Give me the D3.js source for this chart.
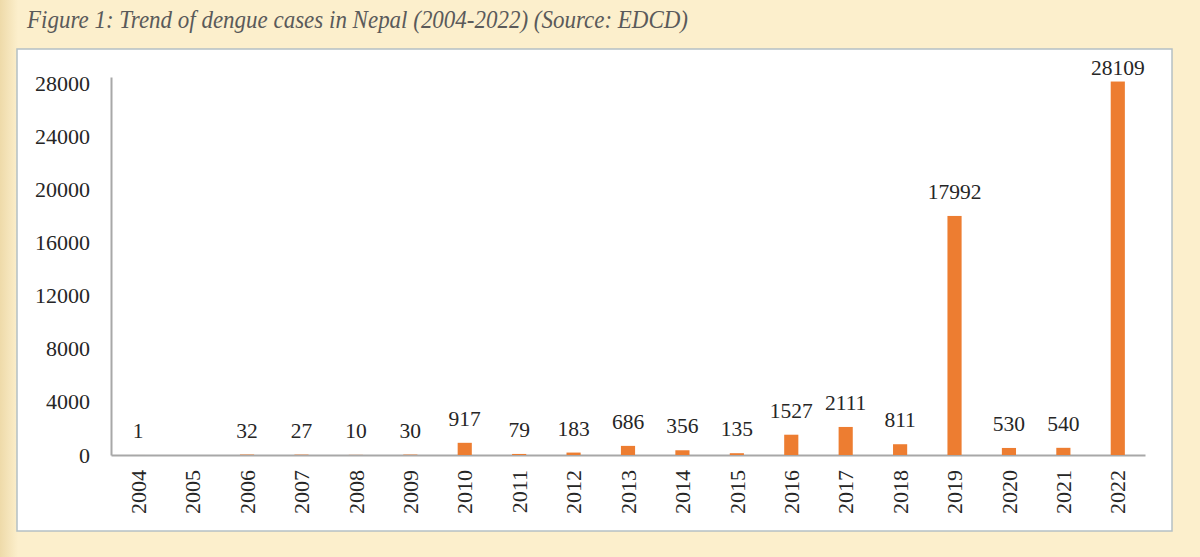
<!DOCTYPE html>
<html>
<head>
<meta charset="utf-8">
<script src="https://cdn.jsdelivr.net/npm/d3@7"></script>
<style>
  html, body { margin: 0; padding: 0; background: #fcefcc; }
  svg { display: block; }
</style>
</head>
<body>
<div id="chart"></div>
<script>
var years = ["2004", "2005", "2006", "2007", "2008", "2009", "2010", "2011", "2012", "2013",
    "2014", "2015", "2016", "2017", "2018", "2019", "2020", "2021", "2022"];
var cases = [1, null, 32, 27, 10, 30, 917, 79, 183, 686, 356, 135, 1527, 2111, 811, 17992, 530, 540, 28109];
var yTicks = [0, 4000, 8000, 12000, 16000, 20000, 24000, 28000];
var title = "Figure 1: Trend of dengue cases in Nepal (2004-2022) (Source: EDCD)";

var W = 1200, H = 557;
var svg = d3.select("#chart").append("svg")
    .attr("width", W)
    .attr("height", H);

// background + darker strip on the left edge
var defs = svg.append("defs");
var grad = defs.append("linearGradient").attr("id", "edge").attr("x1", 0).attr("x2", 1);
grad.append("stop").attr("offset", 0).attr("stop-color", "#eedaa9");
grad.append("stop").attr("offset", 1).attr("stop-color", "#fcefcc");
svg.append("rect").attr("width", W).attr("height", H).attr("fill", "#fcefcc");
svg.append("rect").attr("width", 18).attr("height", H).attr("fill", "url(#edge)");

svg.append("text")
    .attr("x", 27)
    .attr("y", 28)
    .attr("textLength", 661)
    .attr("lengthAdjust", "spacingAndGlyphs")
    .style("font-family", "'Liberation Serif', 'DejaVu Serif', serif")
    .style("font-style", "italic")
    .style("font-size", "26px")
    .style("fill", "#5a5a5a")
    .text(title);

// white plotting box
svg.append("rect")
    .attr("x", 17)
    .attr("y", 49)
    .attr("width", 1155)
    .attr("height", 482)
    .attr("fill", "#ffffff")
    .attr("stroke", "#b4c0c4")
    .attr("stroke-width", 1.5);

var margin = {left: 111, right: 1145, top: 77, bottom: 455};

var x = d3.scaleBand()
    .domain(years)
    .range([margin.left, margin.right])
    .paddingInner(0.74)
    .paddingOuter(0.37);

var y = d3.scaleLinear()
    .domain([0, 28450])
    .range([margin.bottom, margin.top]);

var font = "'Liberation Serif', 'Times New Roman', serif";

var yaxis = d3.axisLeft(y)
    .tickValues(yTicks)
    .tickSize(0)
    .tickSizeOuter(0)
    .tickPadding(21)
    .tickFormat(d3.format("d"));

var gy = svg.append("g")
    .attr("transform", "translate(" + margin.left + ",0)")
    .call(yaxis);
gy.select(".domain").attr("stroke", "#a8a8a8").attr("stroke-width", 2);
gy.selectAll("text")
    .style("font-family", font)
    .style("font-size", "22px")
    .style("fill", "#262626");

var xaxis = d3.axisBottom(x).tickSize(0).tickSizeOuter(0);
var gx = svg.append("g")
    .attr("transform", "translate(0," + margin.bottom + ")")
    .call(xaxis);
gx.select(".domain").attr("stroke", "#a8a8a8").attr("stroke-width", 2);
gx.selectAll("text")
    .attr("transform", "rotate(-90)")
    .attr("x", -15)
    .attr("y", 0)
    .attr("dy", "0.35em")
    .style("text-anchor", "end")
    .style("font-family", font)
    .style("font-size", "22px")
    .style("fill", "#262626");

var data = years.map(function (d, i) {
    return {year: d, value: cases[i]};
}).filter(function (d) {
    return d.value !== null;
});

svg.append("g").selectAll("rect")
    .data(data)
    .enter().append("rect")
    .attr("x", function (d) { return x(d.year); })
    .attr("width", x.bandwidth())
    .attr("y", function (d) { return y(d.value); })
    .attr("height", function (d) { return margin.bottom - y(d.value); })
    .attr("fill", "#ed7d31");

svg.append("g").selectAll("text")
    .data(data)
    .enter().append("text")
    .attr("x", function (d) { return x(d.year) + x.bandwidth() / 2; })
    .attr("y", function (d) { return Math.max(y(d.value) - 17, 75); })
    .style("text-anchor", "middle")
    .style("font-family", font)
    .style("font-size", "21.5px")
    .style("fill", "#262626")
    .text(function (d) { return d.value; });
</script>
</body>
</html>
